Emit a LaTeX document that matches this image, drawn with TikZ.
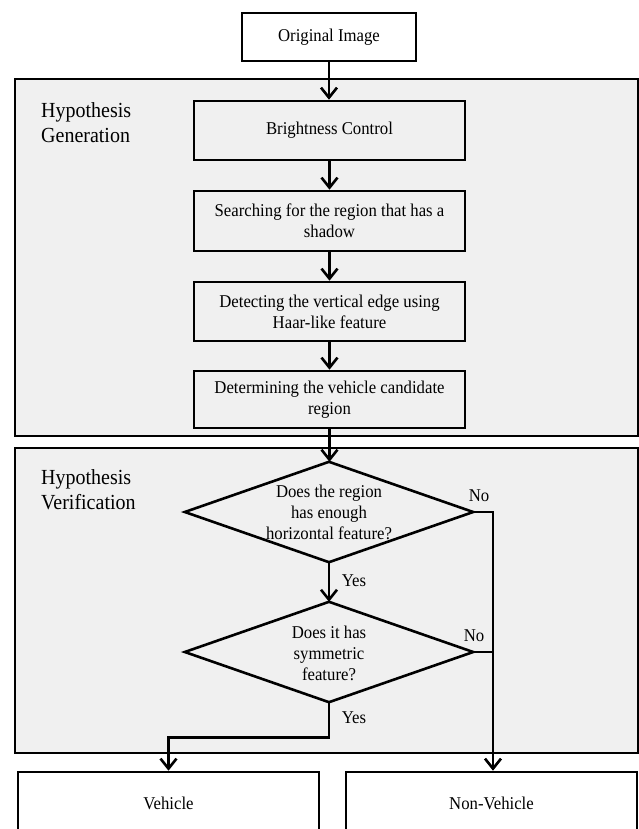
\documentclass[tikz,border=0pt]{standalone}
\usepackage{fontspec}
\setmainfont{Liberation Serif}[FakeStretch=0.93]
\usetikzlibrary{arrows.meta,calc}
\definecolor{panel}{RGB}{240,240,240}
\begin{document}
\begin{tikzpicture}[x=1pt,y=-1pt,
  lw/.style={line width=2.6pt},
  arr/.style={lw,-{Straight Barb[length=10pt,width=16pt]}},
  panelbox/.style={lw,draw=black,fill=panel,inner sep=0pt,minimum width=623pt},
  stepbox/.style={lw,draw=black,fill=panel,minimum width=271pt,align=center,inner sep=0pt,font=\fontsize{18}{21}\selectfont},
  endbox/.style={lw,draw=black,fill=white,inner sep=0pt,minimum height=62pt,font=\fontsize{18}{21}\selectfont},
  dshape/.style={draw=none,inner sep=0pt,minimum width=288pt,minimum height=100pt},
  dtext/.style={align=center,inner sep=0pt,font=\fontsize{18}{21}\selectfont},
  lbl/.style={anchor=north west,align=left,inner sep=0pt,font=\fontsize{21.5}{25}\selectfont},
  yn/.style={inner sep=0pt,font=\fontsize{18}{21}\selectfont}
]
\useasboundingbox (0,0) rectangle (639,829);
\clip (0,0) rectangle (639,829);

% panels
\node[panelbox,minimum height=357pt] (gen) at (326.5,257.5) {};
\node[panelbox,minimum height=305pt] (ver) at (326.5,600.5) {};
\node[lbl] (lg) at (41,102) {Hypothesis\\Generation};
\node[lbl] (lv) at (41,469) {Hypothesis\\Verification};

% boxes
\node[stepbox,fill=white,minimum width=174pt,minimum height=48pt] (orig) at (329,37) {Original Image};
\node[stepbox,minimum height=59pt] (bc) at (329.5,130.5) {Brightness Control};
\node[stepbox,minimum height=60pt] (sr) at (329.5,221) {Searching for the region that has a\\shadow};
\node[stepbox,minimum height=59pt] (de) at (329.5,311.5) {Detecting the vertical edge using\\Haar-like feature};
\node[stepbox,minimum height=57pt] (dt) at (329.5,399.5) {Determining the vehicle candidate\\region};

% diamonds
\node[dshape] (d1) at (329,512) {};
\draw[lw] (d1.north) -- (d1.east) -- (d1.south) -- (d1.west) -- cycle;
\node[dtext] (t1) at (329,512) {Does the region\\has enough\\horizontal feature?};
\node[dshape] (d2) at (329,652) {};
\draw[lw] (d2.north) -- (d2.east) -- (d2.south) -- (d2.west) -- cycle;
\node[dtext] (t2) at (329,653) {Does it has\\symmetric\\feature?};

% end boxes
\node[endbox,minimum width=301pt] (veh) at (168.5,803) {Vehicle};
\node[endbox,minimum width=291pt] (nv) at (491.5,803) {Non-Vehicle};

% connectors
\draw[arr] (orig.south) -- (orig.south |- bc.north);
\draw[arr] (bc.south) -- (sr.north);
\draw[arr] (sr.south) -- (de.north);
\draw[arr] (de.south) -- (dt.north);
\draw[arr] (dt.south) -- (dt.south |- d1.north);
\draw[arr] (d1.south) -- (d2.north);
\draw[arr] (d2.south) -- ++(0,35) -| (veh.north);
\coordinate (j1) at (493,512);
\coordinate (j2) at (493,652);
\draw[arr] (d1.east) -- (j1) -- (j1 |- nv.north);
\draw[lw] (d2.east) -- (j2);

% labels
\node[yn] (no1) at (479,496) {No};
\node[yn] (no2) at (474,636) {No};
\node[yn] (y1) at (354,581) {Yes};
\node[yn] (y2) at (354,718) {Yes};
\end{tikzpicture}
\end{document}
